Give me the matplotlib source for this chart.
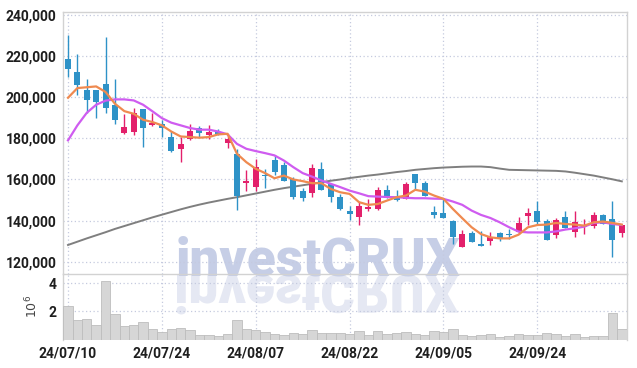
import numpy as np
import matplotlib
matplotlib.use("Agg")
import matplotlib.pyplot as plt
from matplotlib.textpath import TextPath
from matplotlib.patches import PathPatch
from matplotlib.font_manager import FontProperties
from matplotlib.transforms import Affine2D, IdentityTransform
from matplotlib.ticker import FuncFormatter

# OHLC (won)
opens = [218400, 212100, 203300, 203300, 206200, 196000, 182500, 183000, 194000, 186300,
         187100, 180400, 174600, 179800, 185100, 181700, 183300, 177800, 172200, 158400,
         156300, 162400, 169700, 166800, 160000, 154300, 153500, 165200, 157600, 151700,
         144900, 141700, 145900, 145500, 155100, 151700, 150600, 162700, 158400, 144400,
         143800, 140000, 127400, 134000, 128800, 130000, 134000, 133500, 134700, 142100,
         144900, 140000, 132900, 142000, 134700, 136800, 137600, 143000, 140600, 134000]
highs = [230100, 221100, 209000, 203500, 229200, 209000, 191900, 194900, 194300, 192400,
         188700, 183700, 180600, 187100, 185800, 186300, 184600, 182200, 174900, 164400,
         170000, 165200, 171700, 168400, 161100, 155800, 167600, 168400, 157600, 153000,
         147300, 149000, 150600, 156300, 157100, 154900, 158700, 162700, 159500, 147300,
         150600, 140400, 135700, 135200, 134800, 134300, 134700, 136000, 141700, 146000,
         149800, 140800, 141200, 144900, 144900, 140800, 144400, 143300, 149400, 138100]
lows = [209800, 201200, 192400, 190000, 192400, 187100, 182000, 181400, 176000, 185900,
        180600, 173500, 168400, 179000, 180400, 179500, 181400, 175200, 145400, 154600,
        154600, 155900, 162400, 159200, 150600, 149800, 151400, 155000, 149000, 145400,
        140500, 137900, 144900, 145200, 150900, 149800, 150300, 155400, 151900, 141200,
        141200, 128700, 127400, 129500, 127500, 128300, 130300, 131100, 133500, 137900,
        137900, 130500, 131600, 136300, 131900, 133500, 136500, 138400, 122500, 131900]
closes = [213700, 205700, 198600, 197600, 194700, 188900, 185300, 192400, 185000, 187400,
          185000, 173800, 177000, 183700, 182700, 183000, 182200, 179500, 152200, 159200,
          166200, 161900, 163600, 159200, 151400, 150900, 165700, 155000, 151400, 145700,
          143100, 147300, 146500, 155100, 150900, 150100, 157900, 158200, 151900, 142800,
          141200, 131900, 133500, 129800, 127900, 132200, 131100, 133000, 138900, 143800,
          139600, 130800, 140400, 136300, 139600, 138000, 143000, 138400, 130800, 138100]

# moving averages as drawn (5, 10 and long term)
ma5 = [199700, 204400, 204800, 205200, 202500, 196800, 193200, 191900, 189000, 187900,
       186300, 183300, 180900, 180600, 180300, 180600, 181900, 182200, 172500, 168400,
       165200, 163100, 160600, 161900, 160000, 159200, 158200, 158200, 155400, 153800,
       153000, 149000, 147700, 148100, 149800, 151400, 152200, 155000, 154100, 152200,
       150600, 145700, 141200, 136800, 133500, 131900, 131400, 131400, 133200, 136800,
       137900, 138100, 138900, 138400, 138100, 137600, 139200, 139600, 138900, 138100]
ma10 = [179000, 186300, 192400, 196300, 198300, 198900, 198900, 198400, 196300, 193100,
        189800, 187600, 186300, 185000, 184200, 184200, 183300, 181900, 177300, 174900,
        173800, 172800, 171700, 169200, 166000, 163100, 161400, 159500, 157900, 156300,
        154600, 153300, 151900, 151700, 151500, 151400, 151100, 150900, 150900, 150700,
        150600, 149300, 147700, 144900, 142800, 141300, 139200, 136800, 134700, 134300,
        134300, 134300, 134800, 135700, 136300, 137100, 138900, 139200, 138400, 137900]
ma_long = [128200, 129800, 131400, 132900, 134400, 136000, 137400, 138800, 140200, 141600,
           142900, 144200, 145500, 146700, 147800, 148800, 149700, 150600, 151400, 152300,
           153200, 154100, 155000, 155800, 156500, 157200, 157900, 158700, 159400, 160000,
           160700, 161300, 161900, 162400, 163000, 163600, 164100, 164700, 165100, 165500,
           165800, 166000, 166200, 166300, 166300, 166000, 165300, 164700, 164600, 164500,
           164400, 164300, 164200, 163900, 163300, 162600, 161900, 161000, 160100, 159100]

# volume in millions of shares
volume = [2.42, 1.37, 1.44, 1.02, 4.16, 1.84, 0.95, 1.02, 1.23, 0.74,
          0.56, 0.74, 0.81, 0.67, 0.33, 0.33, 0.26, 0.40, 1.37, 0.74,
          0.67, 0.53, 0.40, 0.33, 0.47, 0.40, 0.67, 0.47, 0.47, 0.47,
          0.40, 0.60, 0.33, 0.60, 0.40, 0.47, 0.53, 0.40, 0.33, 0.60,
          0.53, 0.74, 0.33, 0.26, 0.33, 0.40, 0.19, 0.26, 0.40, 0.33,
          0.33, 0.47, 0.40, 0.26, 0.40, 0.19, 0.26, 0.26, 1.86, 0.74]

date_labels = ["24/07/10", "24/07/24", "24/08/07", "24/08/22", "24/09/05", "24/09/24"]

UP = "#e3206b"
DOWN = "#2e92c7"
GRID = "#c5cadf"
SPINE = "#d2d2d2"
TXT = "#1e1e1e"
FONT = ["Roboto", "DejaVu Sans"]

fig = plt.figure(figsize=(6.37, 3.68), dpi=100)
ax = fig.add_axes([0.0994, 0.2554, 0.8856, 0.7126])
axv = fig.add_axes([0.0994, 0.0769, 0.8856, 0.1785], sharex=ax)
for a in (ax, axv):
    a.set_facecolor("none")

x = np.arange(len(opens))
o = np.array(opens)
c = np.array(closes)
up = c >= o
cols = np.where(up, UP, DOWN)

# candles
ax.vlines(x, lows, highs, colors=cols, linewidth=1.0, zorder=3)
body = np.maximum(np.abs(c - o), 500)
ax.bar(x, body, bottom=np.minimum(o, c), width=0.64, color=cols, zorder=4)

ax.plot(x, ma_long, color="#7f7f7f", lw=1.4, zorder=2)
ax.plot(x, ma10, color="#cf5cf0", lw=1.6, zorder=5)
ax.plot(x, ma5, color="#ef8a50", lw=1.6, zorder=5)

ax.set_ylim(114100, 241450)
ax.set_xlim(-0.5, 59.6)
ax.set_yticks(np.arange(120000, 240001, 20000))
ax.yaxis.set_major_formatter(FuncFormatter(lambda v, p: f"{int(v):,}"))

# volume
axv.bar(x, np.array(volume) * 1e6, width=1.0, color="#d6d6d6",
        edgecolor="#bdbdbd", linewidth=0.6, zorder=3)
axv.set_ylim(0, 4.65e6)
axv.set_yticks([2e6, 4e6])
axv.yaxis.set_major_formatter(FuncFormatter(lambda v, p: f"{v / 1e6:g}"))
axv.set_ylabel(r"$10^{6}$", fontsize=9, color="#444444", labelpad=6)

axv.set_xticks(np.arange(0, 60, 10))
axv.set_xticklabels(date_labels)
plt.setp(ax.get_xticklabels(), visible=False)

for a in (ax, axv):
    a.grid(True, color=GRID, linestyle=(0, (1, 2)), linewidth=0.9)
    a.set_axisbelow(True)
    a.tick_params(length=0, labelsize=10, colors=TXT, pad=5)
    for lab in a.get_xticklabels() + a.get_yticklabels():
        lab.set_family(FONT)
        lab.set_weight("bold")
    for s in a.spines.values():
        s.set_color(SPINE)
        s.set_linewidth(1.0)
axv.spines["bottom"].set_visible(False)
axv.spines["top"].set_visible(False)

# watermark with reflection
wm_size_px = 53
wm_x = 317.5
wm_base = 368 - 275
fig.text(wm_x / 637, wm_base / 368, "investCRUX", ha="center", va="baseline",
         fontsize=wm_size_px * 72 / 100, family=FONT, weight="black",
         color="#c6cee6", zorder=-1)
tp = TextPath((0, 0), "investCRUX", size=wm_size_px,
              prop=FontProperties(family=FONT, weight="black"))
ext = tp.get_extents()
tr = Affine2D().scale(1, -1).translate(wm_x - ext.width / 2 - ext.x0, wm_base) + IdentityTransform()
refl = PathPatch(tp, transform=tr, facecolor="#e5e8f3", edgecolor="none", zorder=-1)
fig.patches.append(refl)

fig.savefig("out.png", dpi=100)
